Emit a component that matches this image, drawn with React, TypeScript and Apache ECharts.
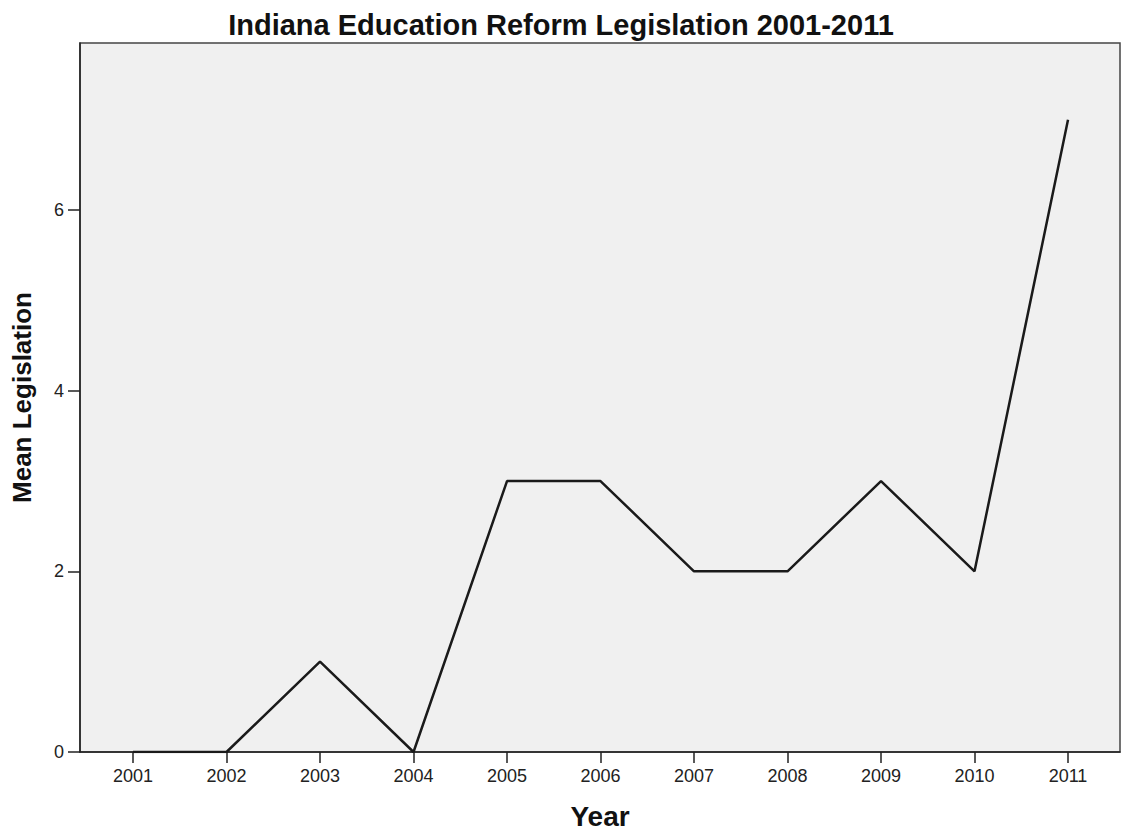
import React, { useEffect, useRef } from "react";
import * as echarts from "echarts";

const years = [2001, 2002, 2003, 2004, 2005, 2006, 2007, 2008, 2009, 2010, 2011];
const legislation = [0, 0, 1, 0, 3, 3, 2, 2, 3, 2, 7];
const yTicks = [0, 2, 4, 6];
const titleText = "Indiana Education Reform Legislation 2001-2011";
const xName = "Year";
const yName = "Mean Legislation";

export default function App() {
  const ref = useRef<HTMLDivElement>(null);
  useEffect(() => {
    if (!ref.current) return;
    const chart = echarts.init(ref.current, null, { renderer: "svg" });
    const font = "'Liberation Sans', Arial, sans-serif";
    chart.setOption({
      animation: false,
      backgroundColor: "#ffffff",
      title: {
        text: titleText,
        left: 556,
        textAlign: "center",
        top: 5,
        textStyle: { fontFamily: font, fontSize: 29, fontWeight: "bold", color: "#111" },
      },
      grid: {
        left: 80,
        right: 5,
        top: 43,
        bottom: 78,
        containLabel: false,
        outerBoundsMode: "none",
        show: true,
        backgroundColor: "#f0f0f0",
        borderColor: "#444",
        borderWidth: 1.5,
      },
      xAxis: {
        type: "value",
        min: 2000.433,
        max: 2011.556,
        name: xName,
        nameLocation: "middle",
        nameGap: 50,
        nameTextStyle: { fontFamily: font, fontSize: 28, fontWeight: "bold", color: "#111" },
        axisLine: { show: true, lineStyle: { color: "#222", width: 1.5 } },
        axisTick: { show: true, length: 11, customValues: years, lineStyle: { color: "#222", width: 1.5 } },
        axisLabel: {
          customValues: years,
          fontFamily: font,
          fontSize: 18,
          color: "#222",
          margin: 15,
          formatter: (v: number) => String(v),
        },
        splitLine: { show: false },
      },
      yAxis: {
        type: "value",
        min: 0,
        max: 7.85,
        name: yName,
        nameLocation: "middle",
        nameGap: 45,
        nameRotate: 90,
        nameTextStyle: { fontFamily: font, fontSize: 26, fontWeight: "bold", color: "#111" },
        axisLine: { show: true, lineStyle: { color: "#222", width: 1.5 } },
        axisTick: { show: true, length: 12, customValues: yTicks, lineStyle: { color: "#222", width: 1.5 } },
        axisLabel: {
          customValues: yTicks,
          fontFamily: font,
          fontSize: 18,
          color: "#222",
          margin: 16,
        },
        splitLine: { show: false },
      },
      series: [
        {
          type: "line",
          data: years.map((y, i) => [y, legislation[i]]),
          showSymbol: false,
          symbol: "none",
          lineStyle: { color: "#1a1a1a", width: 2.5 },
        },
      ],
    });
    return () => chart.dispose();
  }, []);
  return (
    <div
      ref={ref}
      style={{ position: "fixed", left: 0, top: 0, width: 1125, height: 830 }}
    />
  );
}
